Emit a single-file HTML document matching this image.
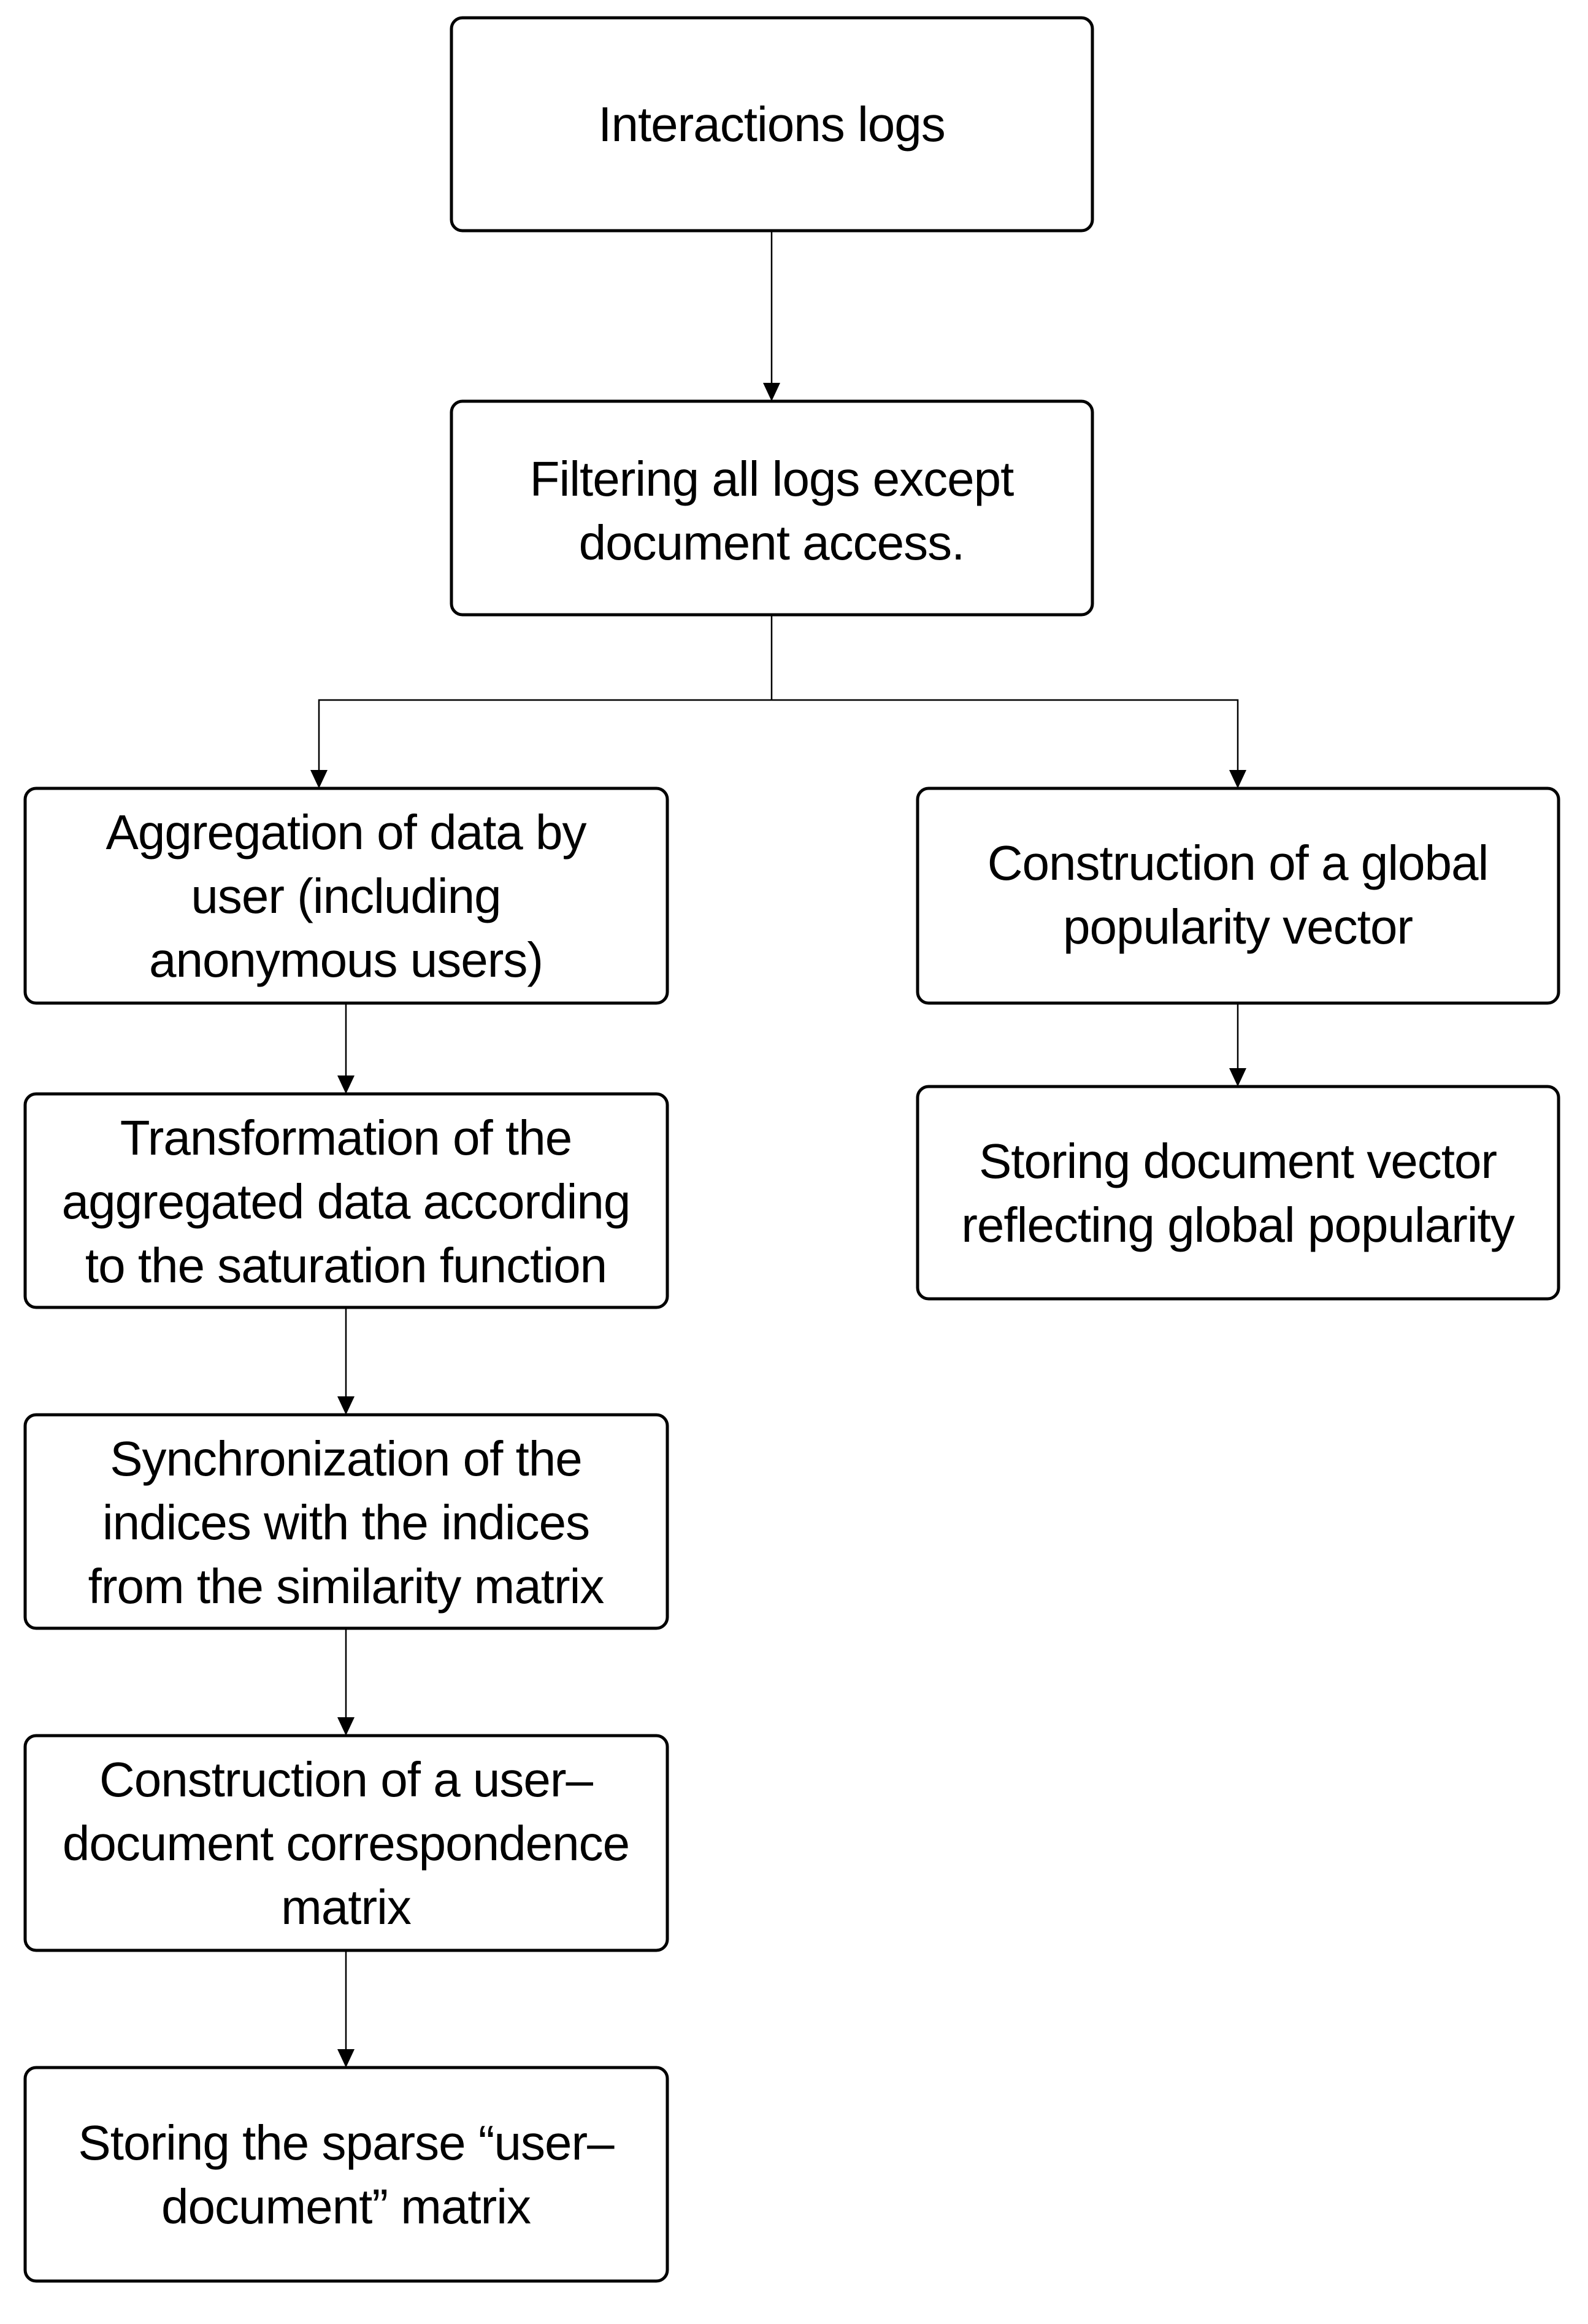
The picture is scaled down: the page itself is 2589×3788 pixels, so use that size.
<!DOCTYPE html>
<html><head><meta charset="utf-8"><style>
html,body{margin:0;padding:0;background:#fff}
svg{display:block}
text{font-family:"Liberation Sans",Arial,sans-serif;font-size:80px;fill:#000;text-anchor:middle;letter-spacing:-1px}
rect{fill:#fff;stroke:#000;stroke-width:5}
.c{stroke:#000;stroke-width:2.5;fill:none}
.a{fill:#000}
</style></head><body>
<svg width="2589" height="3788" viewBox="0 0 2589 3788" xmlns="http://www.w3.org/2000/svg">
<!-- connectors -->
<line class="c" x1="1258" y1="376" x2="1258" y2="630"/>
<polygon class="a" points="1244,624 1272,624 1258,654"/>
<line class="c" x1="1258" y1="1002" x2="1258" y2="1141"/>
<polyline class="c" points="520,1260 520,1141 2018,1141 2018,1260"/>
<polygon class="a" points="506,1255 534,1255 520,1285"/>
<polygon class="a" points="2004,1255 2032,1255 2018,1285"/>
<line class="c" x1="564" y1="1635" x2="564" y2="1760"/>
<polygon class="a" points="550,1753 578,1753 564,1783"/>
<line class="c" x1="564" y1="2131" x2="564" y2="2282"/>
<polygon class="a" points="550,2276 578,2276 564,2306"/>
<line class="c" x1="564" y1="2654" x2="564" y2="2805"/>
<polygon class="a" points="550,2799 578,2799 564,2829"/>
<line class="c" x1="564" y1="3179" x2="564" y2="3346"/>
<polygon class="a" points="550,3340 578,3340 564,3370"/>
<line class="c" x1="2018" y1="1635" x2="2018" y2="1748"/>
<polygon class="a" points="2004,1741 2032,1741 2018,1771"/>
<!-- boxes -->
<rect x="736" y="29" width="1045" height="347" rx="18"/>
<text x="1258" y="230">Interactions logs</text>
<rect x="736" y="654" width="1045" height="348" rx="18"/>
<text x="1258" y="808">Filtering all logs except</text>
<text x="1258" y="912">document access.</text>
<rect x="41" y="1285" width="1047" height="350" rx="18"/>
<text x="564" y="1384">Aggregation of data by</text>
<text x="564" y="1488">user (including</text>
<text x="564" y="1592">anonymous users)</text>
<rect x="1496" y="1285" width="1045" height="350" rx="18"/>
<text x="2018" y="1434">Construction of a global</text>
<text x="2018" y="1538">popularity vector</text>
<rect x="41" y="1783" width="1047" height="348" rx="18"/>
<text x="564" y="1882">Transformation of the</text>
<text x="564" y="1986">aggregated data according</text>
<text x="564" y="2090">to the saturation function</text>
<rect x="1496" y="1771" width="1045" height="346" rx="18"/>
<text x="2018" y="1920">Storing document vector</text>
<text x="2018" y="2024">reflecting global popularity</text>
<rect x="41" y="2306" width="1047" height="348" rx="18"/>
<text x="564" y="2405">Synchronization of the</text>
<text x="564" y="2509">indices with the indices</text>
<text x="564" y="2613">from the similarity matrix</text>
<rect x="41" y="2829" width="1047" height="350" rx="18"/>
<text x="564" y="2928">Construction of a user–</text>
<text x="564" y="3032">document correspondence</text>
<text x="564" y="3136">matrix</text>
<rect x="41" y="3370" width="1047" height="348" rx="18"/>
<text x="564" y="3520">Storing the sparse “user–</text>
<text x="564" y="3624">document” matrix</text>
</svg>
</body></html>
